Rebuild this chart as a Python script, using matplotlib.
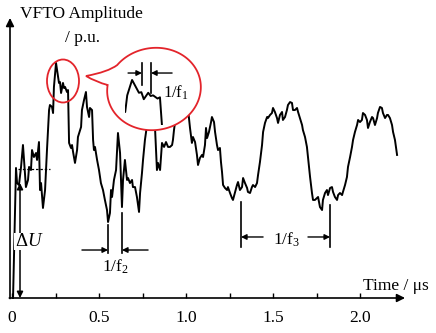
import numpy as np
import matplotlib
matplotlib.use("Agg")
import matplotlib.pyplot as plt
import matplotlib.transforms as mtransforms
from matplotlib.path import Path
from matplotlib.patches import PathPatch, Ellipse

plt.rcParams['font.family'] = ['Liberation Serif', 'DejaVu Serif']
plt.rcParams['mathtext.fontset'] = 'custom'
plt.rcParams['mathtext.rm'] = 'Liberation Serif'
plt.rcParams['mathtext.it'] = 'Liberation Serif:italic'
plt.rcParams['mathtext.bf'] = 'Liberation Serif:bold'

# ---------------- data ----------------
time_us = [
    0.006, 0.023, 0.029, 0.040, 0.052, 0.063, 0.080, 0.092, 0.098, 0.109,
    0.115, 0.126, 0.138, 0.144, 0.155, 0.161, 0.167, 0.178, 0.190, 0.201,
    0.213, 0.218, 0.230, 0.236, 0.241, 0.253, 0.259, 0.270, 0.276, 0.282,
    0.293, 0.299, 0.305, 0.316, 0.322, 0.328, 0.339, 0.345, 0.351, 0.362,
    0.374, 0.379, 0.397, 0.402, 0.414, 0.425, 0.431, 0.443, 0.448, 0.460,
    0.466, 0.471, 0.477, 0.489, 0.500, 0.511, 0.523, 0.534, 0.546, 0.552,
    0.563, 0.569, 0.575, 0.586, 0.598, 0.609, 0.621, 0.632, 0.638, 0.649,
    0.661, 0.667, 0.678, 0.690, 0.695, 0.707, 0.718, 0.730, 0.736, 0.747,
    0.753, 0.764, 0.776, 0.787, 0.799, 0.810, 0.822, 0.833, 0.839, 0.851,
    0.862, 0.874, 0.885, 0.897, 0.908, 0.920, 0.925, 0.931, 0.937, 0.954,
    0.971, 0.989, 1.011, 1.023, 1.034, 1.040, 1.052, 1.063, 1.069, 1.080,
    1.092, 1.098, 1.109, 1.115, 1.121, 1.132, 1.144, 1.149, 1.161, 1.167,
    1.178, 1.184, 1.195, 1.201, 1.207, 1.213, 1.224, 1.236, 1.241, 1.253,
    1.264, 1.270, 1.282, 1.293, 1.299, 1.310, 1.322, 1.328, 1.339, 1.351,
    1.356, 1.368, 1.379, 1.385, 1.397, 1.408, 1.414, 1.425, 1.437, 1.443,
    1.454, 1.466, 1.471, 1.483, 1.494, 1.500, 1.511, 1.523, 1.529, 1.540,
    1.552, 1.557, 1.569, 1.580, 1.586, 1.598, 1.609, 1.615, 1.626, 1.638,
    1.644, 1.655, 1.667, 1.672, 1.684, 1.695, 1.701, 1.713, 1.724, 1.730,
    1.741, 1.753, 1.759, 1.770, 1.782, 1.787, 1.799, 1.810, 1.816, 1.828,
    1.839, 1.845, 1.856, 1.868, 1.874, 1.885, 1.897, 1.902, 1.914, 1.925,
    1.931, 1.943, 1.954, 1.960, 1.971, 1.983, 1.989, 2.000, 2.011, 2.017,
    2.029, 2.040, 2.046, 2.057, 2.069, 2.075, 2.086, 2.098, 2.103, 2.115,
    2.126, 2.132, 2.144, 2.155, 2.161, 2.172, 2.184, 2.190, 2.201, 2.213,
]
amplitude_pu = [
    0.000, 1.008, 0.891, 0.876, 1.016, 1.186, 0.860, 0.915, 1.016, 0.992,
    1.147, 1.093, 1.124, 1.070, 1.209, 0.837, 0.891, 0.698, 0.837, 1.147,
    1.457, 1.496, 1.481, 1.434, 1.636, 1.822, 1.767, 1.667, 1.674, 1.589,
    1.667, 1.628, 1.636, 1.597, 1.612, 1.202, 1.163, 1.186, 1.132, 1.047,
    1.147, 1.248, 1.326, 1.457, 1.535, 1.597, 1.481, 1.403, 1.473, 1.457,
    1.225, 1.147, 1.171, 1.070, 0.992, 0.891, 0.837, 0.760, 0.682, 0.589,
    0.659, 0.837, 0.783, 0.915, 0.992, 1.279, 1.124, 0.705, 0.915, 1.070,
    0.915, 0.930, 0.891, 0.915, 0.860, 0.860, 0.783, 0.667, 0.814, 0.969,
    1.070, 1.225, 1.341, 1.496, 1.574, 1.457, 1.318, 0.992, 1.047, 0.992,
    1.202, 1.171, 1.209, 1.171, 1.171, 1.186, 1.225, 1.302, 1.364, 1.535,
    1.612, 1.574, 1.473, 1.318, 1.202, 1.248, 1.209, 1.109, 1.031, 1.085,
    1.109, 1.093, 1.186, 1.318, 1.240, 1.287, 1.364, 1.403, 1.364, 1.287,
    1.186, 1.147, 1.163, 1.054, 0.977, 0.876, 0.853, 0.837, 0.860, 0.814,
    0.775, 0.760, 0.822, 0.876, 0.899, 0.837, 0.860, 0.930, 0.891, 0.853,
    0.822, 0.814, 0.860, 0.876, 0.860, 0.891, 0.953, 1.054, 1.186, 1.287,
    1.357, 1.403, 1.395, 1.419, 1.434, 1.473, 1.442, 1.395, 1.357, 1.419,
    1.442, 1.380, 1.403, 1.457, 1.496, 1.519, 1.512, 1.457, 1.457, 1.473,
    1.442, 1.395, 1.341, 1.302, 1.248, 1.171, 1.093, 0.938, 0.814, 0.760,
    0.760, 0.775, 0.783, 0.705, 0.682, 0.760, 0.814, 0.837, 0.798, 0.853,
    0.860, 0.822, 0.783, 0.760, 0.798, 0.814, 0.798, 0.822, 0.876, 0.938,
    1.016, 1.093, 1.171, 1.225, 1.287, 1.341, 1.380, 1.364, 1.380, 1.434,
    1.419, 1.380, 1.318, 1.364, 1.403, 1.395, 1.341, 1.395, 1.434, 1.481,
    1.473, 1.434, 1.395, 1.419, 1.419, 1.395, 1.341, 1.287, 1.225, 1.109,
]
xtick_values = [0, 0.5, 1.0, 1.5, 2.0]
xtick_labels = ['0', '0.5', '1.0', '1.5', '2.0']
minor_ticks = [0.25, 0.75, 1.25, 1.75]
baseline_pu = 1.0
f1_marks = (0.747, 0.799)   # zoomed view (inset) markers
f2_marks = (0.552, 0.632)
f3_marks = (1.316, 1.828)
zoom_window = (0.2355, 0.3345, 1.277, 1.882)   # t0, t1, v0, v1 of magnified peak

# ---------------- figure ----------------
W, H, DPI = 436, 333, 100
fig = plt.figure(figsize=(W / DPI, H / DPI), dpi=DPI)
fig.patch.set_facecolor('white')
ax = fig.add_axes([0, 0, 1, 1])
ax.set_xlim(-12 / 174, (W - 12) / 174)
ax.set_ylim(-35 / 129, 298 / 129)
ax.patch.set_visible(False)

# pixel transform (x from left, y from top) for decorations
P = mtransforms.Affine2D().scale(1 / DPI, -1 / DPI).translate(0, H / DPI) + fig.dpi_scale_trans

for s in ['top', 'right', 'left', 'bottom']:
    ax.spines[s].set_visible(False)
ax.spines['bottom'].set_position(('data', 0))
ax.set_yticks([])
ax.set_xticks(xtick_values, xtick_labels)
ax.set_xticks(minor_ticks, minor=True)
ax.tick_params(axis='x', which='both', direction='in', length=3.8, width=1.0,
               pad=9, labelsize=12.5, colors='black')

RED = '#e3242b'
axis_x0 = -0.0115
# axes with arrows
akw = dict(arrowstyle='-|>', color='k', lw=1.2, mutation_scale=12, shrinkA=0, shrinkB=0)
ax.annotate('', xy=(2.259, 0), xytext=(axis_x0 - 0.004, 0), arrowprops=akw)
ax.annotate('', xy=(axis_x0, 2.171), xytext=(axis_x0, -0.004), arrowprops=akw)

# waveform
ax.plot(time_us, amplitude_pu, color='black', lw=1.4, zorder=3)

# dotted baseline
ax.plot([0.034, 0.218], [baseline_pu, baseline_pu], color='black', lw=0.9,
        ls=(0, (2, 1.5)), zorder=3)

# Delta U
ax.annotate('', xy=(0.046, 0.891), xytext=(0.046, 0.0),
            arrowprops=dict(arrowstyle='<|-|>', color='k', lw=1.1, mutation_scale=9,
                            shrinkA=0, shrinkB=0), zorder=4)
ax.text(0.098, 0.438, r'$\Delta\mathit{U}$', ha='center', va='center', fontsize=13.5,
        bbox=dict(fc='white', ec='none', pad=0.3), zorder=5)

# period markers
mkw = dict(arrowstyle='-|>', color='k', lw=1.0, mutation_scale=8, shrinkA=0, shrinkB=0)

def period(ta, tb, ya, yb, ybot, yarr, da, label, lx, ly, fs=12.5):
    ax.plot([ta, ta], [ya, ybot], color='k', lw=1.2, zorder=4)
    ax.plot([tb, tb], [yb, ybot], color='k', lw=1.2, zorder=4)
    if da > 0:   # arrows from outside pointing in
        ax.annotate('', xy=(ta, yarr), xytext=(ta - da, yarr), arrowprops=mkw, zorder=6)
        ax.annotate('', xy=(tb, yarr), xytext=(tb + da, yarr), arrowprops=mkw, zorder=6)
    else:        # arrows from inside pointing out
        ax.annotate('', xy=(ta, yarr), xytext=(ta - da, yarr), arrowprops=mkw, zorder=6)
        ax.annotate('', xy=(tb, yarr), xytext=(tb + da, yarr), arrowprops=mkw, zorder=6)
    ax.text(lx, ly, label, ha='center', va='baseline', fontsize=fs, zorder=6)

period(f2_marks[0], f2_marks[1], 0.566, 0.659, 0.349, 0.372, 0.150,
       r'$\mathrm{1/f_2}$', 0.592, 0.202)
period(f3_marks[0], f3_marks[1], 0.744, 0.721, 0.395, 0.473, -0.127,
       r'$\mathrm{1/f_3}$', 1.580, 0.411)

# speech bubble (pixel coordinates)
cx, cy, a, b, rho = 154, 89, 47, 41, np.deg2rad(10)
def ell(phi_deg):
    ph = np.deg2rad(phi_deg)
    X, Y = a * np.cos(ph), b * np.sin(ph)
    Xr = X * np.cos(rho) - Y * np.sin(rho)
    Yr = X * np.sin(rho) + Y * np.cos(rho)
    return np.column_stack([cx + Xr, cy - Yr])
arc = ell(np.linspace(163, 493, 240))
tip = (86, 76)
verts = list(map(tuple, arc)) + [(108, 72), tip, (96, 82), tuple(arc[0]), tuple(arc[0])]
codes = [Path.MOVETO] + [Path.LINETO] * (len(arc) - 1) + \
        [Path.CURVE3, Path.CURVE3, Path.CURVE3, Path.CURVE3, Path.CLOSEPOLY]
bubble = PathPatch(Path(verts, codes), facecolor='white', edgecolor=RED, lw=1.3,
                   transform=P, zorder=5)
ax.add_patch(bubble)

# small ellipse around the peak
ax.add_patch(Ellipse((63, 81), 32, 43, facecolor='none', edgecolor=RED, lw=1.3,
                     transform=P, zorder=6))

# markers inside bubble
ax.plot([f1_marks[0]] * 2, [1.822, 1.651], color='k', lw=1.2, zorder=7)
ax.plot([f1_marks[1]] * 2, [1.822, 1.589], color='k', lw=1.2, zorder=7)
ax.annotate('', xy=(f1_marks[0], 1.744), xytext=(f1_marks[0] - 0.080, 1.744),
            arrowprops=mkw, zorder=7)
ax.annotate('', xy=(f1_marks[1], 1.744), xytext=(f1_marks[1] + 0.121, 1.744),
            arrowprops=mkw, zorder=7)
ax.text(0.940, 1.550, r'$\mathrm{1/f_1}$', ha='center', va='baseline', fontsize=12,
        zorder=7)

# magnified peak inside the bubble
axin = fig.add_axes([125 / W, 1 - 125 / H, 40 / W, 50 / H])
axin.plot(time_us, amplitude_pu, color='black', lw=1.4)
axin.set_xlim(zoom_window[0], zoom_window[1])
axin.set_ylim(zoom_window[2], zoom_window[3])
axin.axis('off')
axin.patch.set_visible(False)

# axis texts
ax.text(0.046, 2.171, 'VFTO Amplitude', ha='left', va='baseline', fontsize=12.5)
ax.text(0.305, 1.984, '/ p.u.', ha='left', va='baseline', fontsize=12.5)
ax.text(2.017, 0.062, 'Time / \u03bcs', ha='left', va='baseline', fontsize=12.5)

fig.savefig('out.png', dpi=DPI, facecolor='white')
